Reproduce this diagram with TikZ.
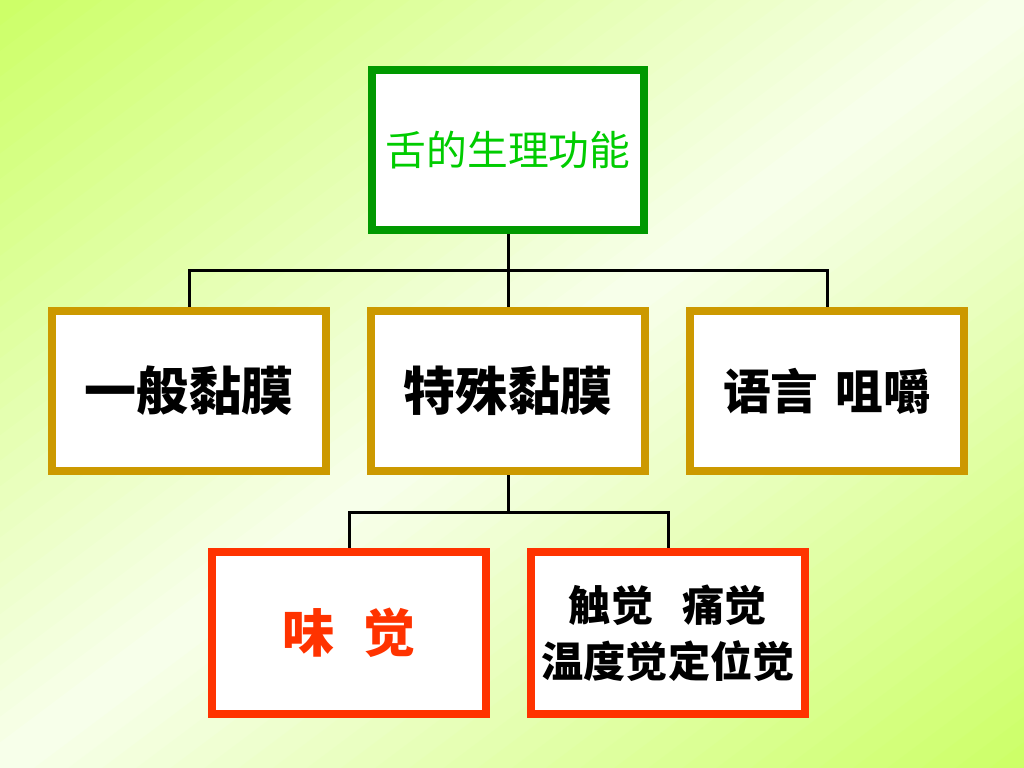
\documentclass[tikz,border=0pt]{standalone}
\usepackage{fontspec}
\newfontfamily\cjk{Noto Sans CJK SC}
\usepackage{tikz}
\usetikzlibrary{positioning,backgrounds}
\definecolor{verdeBG}{RGB}{204,255,102}
\definecolor{claroBG}{RGB}{248,255,236}
\definecolor{verdeT}{RGB}{0,153,0}
\definecolor{verdeTx}{RGB}{0,204,0}
\definecolor{oroT}{RGB}{204,153,0}
\definecolor{rojoT}{RGB}{255,51,0}

\begin{document}
\begin{tikzpicture}[
  x=0.025cm, y=-0.025cm,
  every node/.style = {align=center, font=\cjk},
  boxG/.style = {rectangle, draw=verdeT, fill=white, line width=0.2cm,
                 minimum width=6.8cm, minimum height=3.975cm},
  boxY/.style = {rectangle, draw=oroT, fill=white, line width=0.2cm,
                 minimum width=6.85cm, minimum height=3.975cm},
  boxR/.style = {rectangle, draw=rojoT, fill=white, line width=0.22cm,
                 minimum width=6.85cm, minimum height=4.05cm},
  big/.style  = {font=\cjk\fontsize{37pt}{42pt}\selectfont\bfseries},
  link/.style = {line width=0.075cm, black},
]
\useasboundingbox (0,0) rectangle (1024,768);

% ── Nodos ────────────────────────────────────────────────────
\node[boxG, text=verdeTx, font=\cjk\fontsize{29pt}{34pt}\selectfont]
  (lengua) at (508,150) {舌的生理功能};
\node[boxY, big] (general)  at (189,391) {一般黏膜};
\node[boxY, big] (especial) at (508,391) {特殊黏膜};
\node[boxY, big, font=\cjk\fontsize{34pt}{40pt}\selectfont\bfseries]
  (habla) at (827,391) {语言\hspace{0.35em}咀嚼};
\node[boxR, big, text=rojoT] (gusto) at (349,633) {味\hspace{0.55em}觉};
\node[boxR, font=\cjk\fontsize{30pt}{40pt}\selectfont\bfseries]
  (tacto) at (668,633) {触觉\hspace{0.7em}痛觉\\温度觉定位觉};

\coordinate (jA) at (508,270);
\coordinate (jB) at (508,512);

% ── Fondo (degradado diagonal) y conectores ──────────────────
\begin{scope}[on background layer]
  \begin{scope}
    \clip (0,0) rectangle (1024,768);
    \foreach \i in {0,...,59} {
      \pgfmathsetmacro\sa{\i/60}
      \pgfmathsetmacro\sb{(\i+1.3)/60}
      \pgfmathsetmacro\mix{100*abs(\i+0.5-30)/30}
      \fill[verdeBG!\mix!claroBG]
        ({1024*(\sa+1)},{768*(\sa-1)}) -- ({1024*(\sa-1)},{768*(\sa+1)})
        -- ({1024*(\sb-1)},{768*(\sb+1)}) -- ({1024*(\sb+1)},{768*(\sb-1)})
        -- cycle;
    }
  \end{scope}
  \draw[link] (lengua.south) -- (jA);
  \draw[link] (jA) -| (general.north);
  \draw[link] (jA) -- (especial.north);
  \draw[link] (jA) -| (habla.north);
  \draw[link] (especial.south) -- (jB);
  \draw[link] (jB) -| (gusto.north);
  \draw[link] (jB) -| (tacto.north);
\end{scope}

\end{tikzpicture}
\end{document}
